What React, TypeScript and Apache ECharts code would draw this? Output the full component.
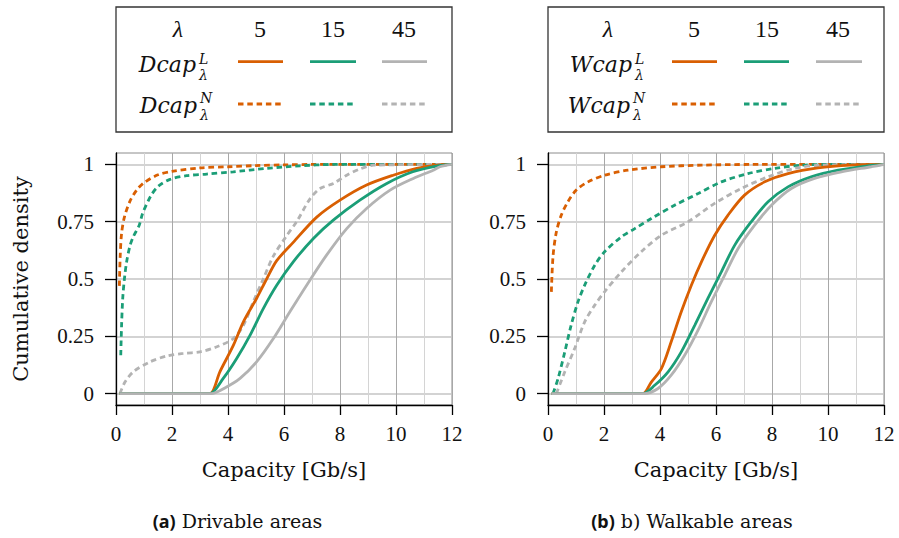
import React, { useEffect, useRef } from "react";
import * as echarts from "echarts";

// ---------- data ----------
const xTickMax = 12;
const yTickValues = [0, 0.25, 0.5, 0.75, 1];
const lambdaValues = ["5", "15", "45"];

// Drivable areas
const dcapN5: [number, number][] = [[0.12, 0.47], [0.15, 0.6], [0.2, 0.7], [0.3, 0.77], [0.5, 0.84], [0.75, 0.89], [1.0, 0.92], [1.5, 0.955], [2, 0.97], [3, 0.985], [4, 0.99], [5, 0.995], [6, 0.998], [7, 1], [12, 1]];
const dcapN15: [number, number][] = [[0.17, 0.167], [0.2, 0.3], [0.24, 0.415], [0.3, 0.5], [0.38, 0.575], [0.5, 0.645], [0.62, 0.685], [0.83, 0.735], [0.95, 0.786], [1.24, 0.862], [1.51, 0.905], [1.93, 0.935], [2.52, 0.951], [3.24, 0.958], [4.19, 0.968], [5.38, 0.983], [6.57, 0.994], [7.76, 1], [12, 1]];
const dcapN45: [number, number][] = [[0.14, 0], [0.32, 0.05], [0.62, 0.095], [1.21, 0.138], [1.81, 0.164], [2.4, 0.175], [3.0, 0.182], [3.6, 0.204], [4.19, 0.24], [4.55, 0.298], [4.9, 0.4], [5.26, 0.5], [5.62, 0.6], [6.1, 0.69], [6.45, 0.75], [6.93, 0.85], [7.29, 0.895], [7.76, 0.917], [8.24, 0.953], [8.71, 0.98], [9.19, 0.997], [12, 1]];
const dcapL5: [number, number][] = [[0.13, 0], [3.0, 0], [3.36, 0], [3.71, 0.095], [4.19, 0.21], [4.55, 0.313], [5.02, 0.415], [5.38, 0.5], [5.74, 0.58], [6.33, 0.66], [7.17, 0.77], [8.0, 0.844], [8.95, 0.91], [9.9, 0.953], [10.74, 0.983], [11.5, 0.997], [12, 1]];
const dcapL15: [number, number][] = [[0.13, 0], [3.0, 0], [3.36, 0], [3.83, 0.066], [4.31, 0.153], [4.79, 0.255], [5.26, 0.371], [5.74, 0.473], [6.33, 0.575], [7.05, 0.677], [7.76, 0.757], [8.71, 0.844], [9.67, 0.917], [10.6, 0.968], [11.5, 0.994], [12, 1]];
const dcapL45: [number, number][] = [[0.13, 0], [3.0, 0], [3.4, 0], [3.95, 0.029], [4.43, 0.066], [5.02, 0.138], [5.62, 0.24], [6.21, 0.357], [6.81, 0.473], [7.52, 0.604], [8.24, 0.72], [8.95, 0.808], [9.79, 0.888], [10.62, 0.939], [11.33, 0.975], [11.57, 0.99], [12, 1]];

// Walkable areas
const wcapN5: [number, number][] = [[0.12, 0.444], [0.18, 0.6], [0.3, 0.706], [0.48, 0.78], [0.71, 0.837], [1.01, 0.888], [1.43, 0.924], [2.02, 0.953], [2.86, 0.975], [4.05, 0.99], [5.48, 0.997], [7.26, 1], [12, 1]];
const wcapN15: [number, number][] = [[0.18, 0], [0.36, 0.066], [0.6, 0.182], [0.83, 0.3], [1.07, 0.4], [1.31, 0.473], [1.67, 0.56], [2.02, 0.619], [2.62, 0.684], [3.1, 0.72], [3.69, 0.764], [4.52, 0.822], [5.36, 0.873], [6.19, 0.924], [7.14, 0.96], [8.1, 0.983], [9.05, 0.997], [10, 1], [12, 1]];
const wcapN45: [number, number][] = [[0.3, 0], [0.6, 0.095], [0.95, 0.196], [1.31, 0.313], [1.67, 0.386], [2.02, 0.444], [2.62, 0.531], [3.33, 0.619], [4.05, 0.691], [5.0, 0.75], [5.95, 0.83], [6.9, 0.895], [7.86, 0.946], [8.81, 0.983], [9.76, 0.997], [12, 1]];
const wcapL5: [number, number][] = [[0.13, 0], [3.0, 0], [3.39, 0], [3.69, 0.05], [4.05, 0.109], [4.4, 0.226], [4.76, 0.357], [5.12, 0.473], [5.48, 0.575], [5.95, 0.69], [6.43, 0.779], [7.02, 0.866], [7.74, 0.924], [8.57, 0.96], [9.64, 0.985], [10.83, 0.997], [12, 1]];
const wcapL15: [number, number][] = [[0.13, 0], [3.0, 0], [3.39, 0], [3.81, 0.036], [4.29, 0.095], [4.76, 0.182], [5.24, 0.298], [5.71, 0.415], [6.19, 0.531], [6.67, 0.648], [7.26, 0.75], [7.86, 0.837], [8.57, 0.902], [9.4, 0.946], [10.36, 0.975], [11.43, 0.994], [12, 1]];
const wcapL45: [number, number][] = [[0.13, 0], [3.0, 0], [3.45, 0], [3.93, 0.022], [4.4, 0.08], [4.88, 0.167], [5.36, 0.277], [5.83, 0.4], [6.31, 0.517], [6.79, 0.633], [7.38, 0.735], [7.98, 0.822], [8.69, 0.895], [9.52, 0.939], [10.48, 0.968], [11.55, 0.99], [12, 1]];

// ---------- styles ----------
const ORANGE = "#d95f02";
const GREEN = "#1b9e77";
const GRAY = "#b3b3b3";
const COLORS = [ORANGE, GREEN, GRAY];
const DASH = [5.5, 3.8];
const SERIF = "'DejaVu Serif', serif";
const NUM = "'Liberation Serif', serif";
const INK = "#111";
const LW = 2.8;

const GRID_W = 336;
const GRIDS = [
  { left: 116, top: 153, width: GRID_W, height: 252 },
  { left: 548, top: 153, width: GRID_W, height: 252 },
];

function makeX(gridIndex: number) {
  return {
    type: "value",
    gridIndex,
    min: 0,
    max: xTickMax,
    interval: 2,
    name: "Capacity [Gb/s]",
    nameLocation: "middle",
    nameGap: 54,
    nameTextStyle: { fontFamily: SERIF, fontSize: 21, color: INK },
    axisLine: { show: true, onZero: false, lineStyle: { color: "#000", width: 1.3 } },
    axisTick: { show: true, length: 10, lineStyle: { color: "#000", width: 1.3 } },
    axisLabel: { margin: 18, fontFamily: NUM, fontSize: 21, color: INK },
    splitLine: { show: true, lineStyle: { color: "#a8a8a8", width: 1 } },
    minorTick: { show: false, splitNumber: 2 },
    minorSplitLine: { show: true, lineStyle: { color: "#d4d4d4", width: 1 } },
  };
}

function makeY(gridIndex: number, withName: boolean) {
  return {
    type: "value",
    gridIndex,
    min: -0.05,
    max: 1.05,
    name: withName ? "Cumulative density" : "",
    nameLocation: "middle",
    nameGap: 85,
    nameRotate: 90,
    nameTextStyle: { fontFamily: SERIF, fontSize: 21, color: INK },
    axisLine: { show: true, onZero: false, lineStyle: { color: "#000", width: 1.3 } },
    axisTick: { show: true, length: 11, customValues: yTickValues, lineStyle: { color: "#000", width: 1.3 } },
    axisLabel: {
      customValues: yTickValues,
      margin: 22,
      fontFamily: NUM,
      fontSize: 21,
      color: INK,
      formatter: (v: number) => String(v),
    },
    splitLine: { show: true, lineStyle: { color: "#c4c4c4", width: 1.5 } },
  };
}

function line(name: string, data: [number, number][], color: string, dashed: boolean, idx: number) {
  return {
    type: "line",
    name,
    data,
    xAxisIndex: idx,
    yAxisIndex: idx,
    showSymbol: false,
    symbol: "none",
    smooth: 0.3,
    lineStyle: { color, width: LW, type: dashed ? DASH : "solid", cap: "butt" },
  };
}

// ---------- legend (table-like) ----------
function legendGraphics(
  left: number,
  prefix: string,
  lamX: number,
  colX: number[],
  lineX: [number, number][],
  mainRight: [number, number],
) {
  const els: any[] = [];
  els.push({
    type: "rect",
    shape: { x: left, y: 7, width: GRID_W, height: 125 },
    style: { fill: "none", stroke: "#333", lineWidth: 1.3 },
  });
  els.push({
    type: "text",
    x: lamX,
    y: 29,
    style: { text: "λ", fontFamily: NUM, fontStyle: "italic", fontSize: 24, fill: INK, align: "center", verticalAlign: "middle" },
  });
  lambdaValues.forEach((t, i) => {
    els.push({
      type: "text",
      x: colX[i],
      y: 29,
      style: { text: t, fontFamily: NUM, fontSize: 24, fill: INK, align: "center", verticalAlign: "middle" },
    });
  });
  const rows = [
    { sup: "L", baseY: 64.5, supY: 58.5, subY: 74.5, lineY: 61.7, dashed: false, right: mainRight[0] },
    { sup: "N", baseY: 105.5, supY: 98, subY: 114.5, lineY: 104, dashed: true, right: mainRight[1] },
  ];
  rows.forEach((r) => {
    els.push({
      type: "text",
      x: r.right,
      y: r.baseY,
      style: { text: prefix, fontFamily: SERIF, fontStyle: "italic", fontSize: 22, lineHeight: 22, fill: INK, align: "right", verticalAlign: "middle" },
    });
    els.push({
      type: "text",
      x: r.right + 3,
      y: r.supY,
      style: { text: r.sup, fontFamily: SERIF, fontStyle: "italic", fontSize: 14, lineHeight: 14, fill: INK, align: "left", verticalAlign: "middle" },
    });
    els.push({
      type: "text",
      x: r.right + 3,
      y: r.subY,
      style: { text: "λ", fontFamily: SERIF, fontStyle: "italic", fontSize: 14, lineHeight: 14, fill: INK, align: "left", verticalAlign: "middle" },
    });
    lineX.forEach(([x1, x2], i) => {
      els.push({
        type: "line",
        shape: { x1, y1: r.lineY, x2, y2: r.lineY },
        style: { stroke: COLORS[i], lineWidth: LW, lineDash: r.dashed ? DASH : null },
      });
    });
  });
  return els;
}

const graphics = [
  ...legendGraphics(116, "Dcap", 178, [260, 333, 404], [[238, 283], [310, 356], [382, 427]], [196, 197]),
  ...legendGraphics(548, "Wcap", 608, [694, 767, 838], [[672, 717], [744, 789], [816, 862]], [632, 630]),
  {
    type: "text",
    x: 237.5,
    y: 521,
    style: {
      text: "{b|(a)} Drivable areas",
      fontFamily: SERIF,
      fontSize: 19,
      fill: INK,
      align: "center",
      verticalAlign: "middle",
      rich: { b: { fontFamily: "'Noto Sans', sans-serif", fontWeight: "bold", fontSize: 18, fill: INK } },
    },
  },
  {
    type: "text",
    x: 692,
    y: 521,
    style: {
      text: "{b|(b)} b) Walkable areas",
      fontFamily: SERIF,
      fontSize: 19,
      fill: INK,
      align: "center",
      verticalAlign: "middle",
      rich: { b: { fontFamily: "'Noto Sans', sans-serif", fontWeight: "bold", fontSize: 18, fill: INK } },
    },
  },
];

const option: any = {
  animation: false,
  backgroundColor: "#fff",
  grid: GRIDS.map((g) => ({ ...g, show: true, borderColor: "#8c8c8c", borderWidth: 1, containLabel: false })),
  xAxis: [makeX(0), makeX(1)],
  yAxis: [makeY(0, true), makeY(1, false)],
  series: [
    line("Dcap^N λ=5", dcapN5, ORANGE, true, 0),
    line("Dcap^N λ=15", dcapN15, GREEN, true, 0),
    line("Dcap^N λ=45", dcapN45, GRAY, true, 0),
    line("Dcap^L λ=5", dcapL5, ORANGE, false, 0),
    line("Dcap^L λ=15", dcapL15, GREEN, false, 0),
    line("Dcap^L λ=45", dcapL45, GRAY, false, 0),
    line("Wcap^N λ=5", wcapN5, ORANGE, true, 1),
    line("Wcap^N λ=15", wcapN15, GREEN, true, 1),
    line("Wcap^N λ=45", wcapN45, GRAY, true, 1),
    line("Wcap^L λ=5", wcapL5, ORANGE, false, 1),
    line("Wcap^L λ=15", wcapL15, GREEN, false, 1),
    line("Wcap^L λ=45", wcapL45, GRAY, false, 1),
  ],
  graphic: graphics,
};

export default function App() {
  const ref = useRef<HTMLDivElement>(null);
  useEffect(() => {
    const chart = echarts.init(ref.current!, null, { renderer: "svg" });
    chart.setOption(option);
    return () => chart.dispose();
  }, []);
  return <div ref={ref} style={{ position: "fixed", left: 0, top: 0, width: 899, height: 538 }} />;
}
